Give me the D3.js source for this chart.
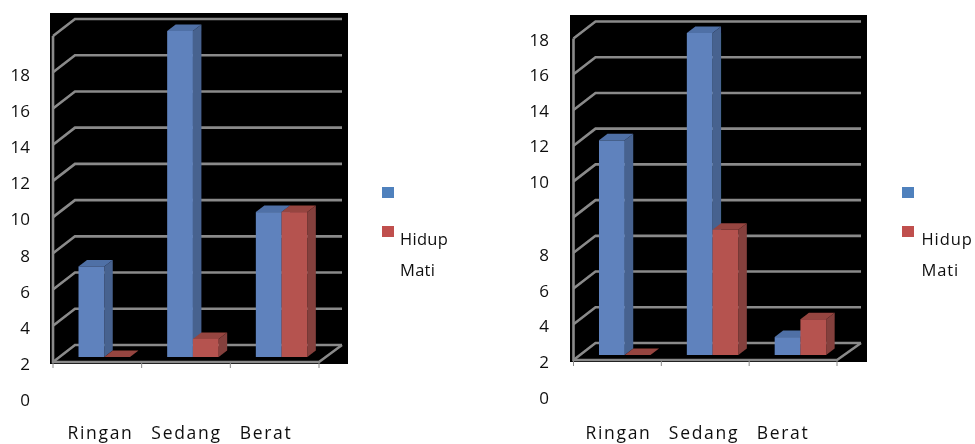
<!DOCTYPE html>
<html>
<head>
<meta charset="utf-8">
<script src="https://cdn.jsdelivr.net/npm/d3@7"></script>
<style>
  html, body { margin: 0; padding: 0; background: #fff; }
  svg { display: block; }
  text { font-family: "Open Sans", sans-serif; fill: #111; }
</style>
</head>
<body>
<script>
// data
const categories = ['Ringan', 'Sedang', 'Berat'];
const seriesNames = ['Hidup', 'Mati'];
const leftHidup = [5, 18, 8];
const leftMati = [0, 1, 8];
const rightHidup = [12, 18, 1];
const rightMati = [0, 7, 2];
const tickLabels = [0, 2, 4, 6, 8, 10, 12, 14, 16, 18];

const colors = {
  Hidup: { front: '#5f82bd', side: '#46628f', top: '#4f6fa6' },
  Mati: { front: '#b5534f', side: '#843f3c', top: '#96443f' }
};

const svg = d3.select('body').append('svg')
  .attr('width', 975)
  .attr('height', 444);

// the source picture is a soft, rescaled scan
svg.append('defs').append('filter')
  .attr('id', 'soft')
  .append('feGaussianBlur')
  .attr('stdDeviation', 0.45);

const poly = d3.line();

function drawChart(c, hidup, mati) {
  const g = svg.append('g').attr('filter', 'url(#soft)');

  g.append('rect')
    .attr('x', c.box[0]).attr('y', c.box[1])
    .attr('width', c.box[2] - c.box[0])
    .attr('height', c.box[3] - c.box[1])
    .attr('fill', '#000');

  // y for the back wall and y for the front of the bars
  const yWall = d3.scaleLinear().domain([0, 18]).range([c.wallBottom, c.wallTop]);
  const yBar = d3.scaleLinear().domain([0, 18]).range([c.barBase, c.barTop]);
  const x = d3.scaleBand().domain(categories).range([c.left, c.right]);
  const xs = d3.scaleBand().domain(seriesNames).range(c.inner);

  const depth = [c.left + 22, c.floor - 17];
  const grey = '#8a8a8a';

  // grid on the wall
  g.append('g').selectAll('path')
    .data(yWall.ticks(9))
    .enter().append('path')
    .attr('d', d => poly([[c.left, yWall(d) + 17], [depth[0], yWall(d)], [c.gridEnd, yWall(d)]]))
    .attr('fill', 'none')
    .attr('stroke', grey)
    .attr('stroke-width', 2.6);

  // wall edge, floor edge, ticks
  g.append('path')
    .attr('d', poly([[c.left, yWall(18) + 17], [c.left, c.floor], [c.right, c.floor], [c.gridEnd, yWall(0)]]))
    .attr('fill', 'none')
    .attr('stroke', grey)
    .attr('stroke-width', 2.6);

  g.append('g').selectAll('line')
    .data(d3.range(categories.length + 1))
    .enter().append('line')
    .attr('x1', d => c.left + d * x.step())
    .attr('x2', d => c.left + d * x.step())
    .attr('y1', c.floor)
    .attr('y2', c.floor + 6)
    .attr('stroke', grey)
    .attr('stroke-width', 1);

  // bars, blue then red in each group
  const dx = 8.5, dy = 6.5;
  categories.forEach((cat, i) => {
    [['Hidup', hidup[i]], ['Mati', mati[i]]].forEach(([name, v]) => {
      const col = colors[name];
      const x0 = x(cat) + xs(name);
      const x1 = x0 + xs.bandwidth();
      const yt = yBar(v);
      const yb = yBar(0);
      g.append('path')
        .attr('d', poly([[x1, yt], [x1 + dx, yt - dy], [x1 + dx, yb - dy], [x1, yb]]) + 'Z')
        .attr('fill', col.side);
      g.append('path')
        .attr('d', poly([[x0, yt], [x0 + dx, yt - dy], [x1 + dx, yt - dy], [x1, yt]]) + 'Z')
        .attr('fill', col.top);
      g.append('rect')
        .attr('x', x0).attr('y', yt)
        .attr('width', xs.bandwidth())
        .attr('height', yb - yt)
        .attr('fill', col.front);
    });
  });

  // the value labels sit away from the grid, as in the picture
  const yLabel = d3.scaleLinear().domain(c.labelDomain).range(c.labelRange);
  const axis = g.append('g')
    .attr('transform', 'translate(' + c.labelX + ',0)')
    .call(d3.axisLeft(yLabel).tickValues(tickLabels).tickSize(0).tickPadding(0).tickFormat(d3.format('d')));
  axis.select('.domain').remove();
  axis.selectAll('text')
    .style('font-family', '"Open Sans", sans-serif')
    .style('font-size', '17px')
    .style('fill', '#111');

  // category labels
  const xLabel = d3.scaleOrdinal(categories, c.catCentres);
  g.append('g').selectAll('text')
    .data(categories)
    .enter().append('text')
    .attr('x', d => xLabel(d))
    .attr('y', 439)
    .attr('text-anchor', 'middle')
    .style('font-size', '17.5px')
    .style('letter-spacing', '1.7px')
    .text(d => d);

  // legend, the names sit below their swatches in the original
  const swatchY = d3.scaleOrdinal(seriesNames, [187, 226]);
  const nameY = d3.scaleOrdinal(seriesNames, [245, 276]);
  g.append('g').selectAll('rect')
    .data(seriesNames)
    .enter().append('rect')
    .attr('x', c.legendX)
    .attr('y', d => swatchY(d))
    .attr('width', 12)
    .attr('height', 11)
    .attr('fill', d => d === 'Hidup' ? '#4f81bd' : '#c0504d');
  g.append('g').selectAll('text')
    .data(seriesNames)
    .enter().append('text')
    .attr('x', c.legendTextX)
    .attr('y', d => nameY(d))
    .style('font-size', '16.5px')
    .style('letter-spacing', c.legendSpacing)
    .text(d => d);
}

drawChart({
  box: [50, 13, 348, 364],
  left: 53, right: 319, floor: 362, gridEnd: 342,
  wallTop: 19, wallBottom: 345, barTop: 31, barBase: 357,
  inner: [25.5, 77],
  labelDomain: [0, 18], labelRange: [400, 75], labelX: 30,
  catCentres: [100.5, 186.5, 266],
  legendX: 382, legendTextX: 400, legendSpacing: '0.3px'
}, leftHidup, leftMati);

drawChart({
  box: [570, 15, 867, 362],
  left: 573.5, right: 837, floor: 360, gridEnd: 861,
  wallTop: 21.5, wallBottom: 343, barTop: 33, barBase: 355,
  inner: [25.5, 77],
  labelDomain: [0, 8, 10, 18], labelRange: [398, 255, 182, 40], labelX: 549,
  catCentres: [618.5, 704, 783],
  legendX: 902, legendTextX: 921.5, legendSpacing: '0.9px'
}, rightHidup, rightMati);
</script>
</body>
</html>
